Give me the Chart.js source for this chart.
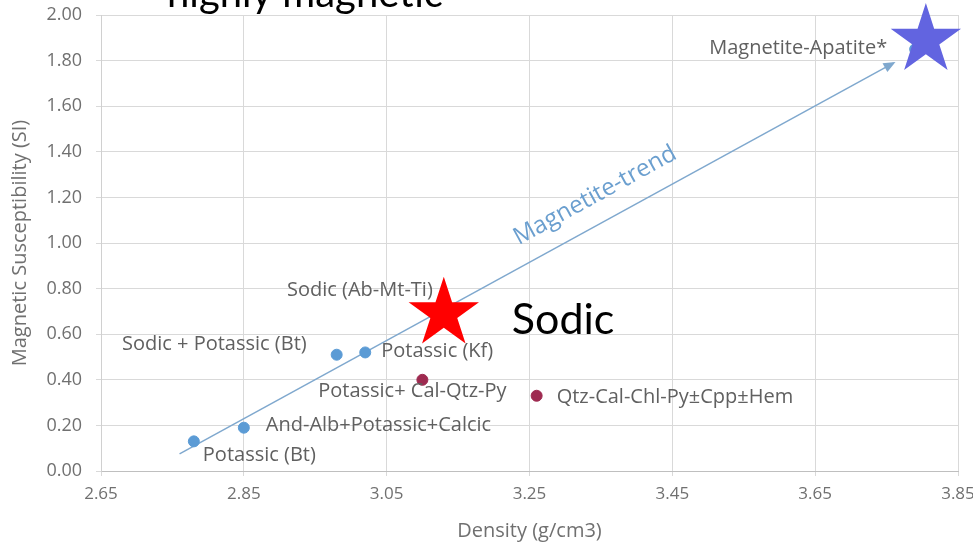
<!DOCTYPE html>
<html>
<head>
<meta charset="utf-8">
<script src="https://cdn.jsdelivr.net/npm/chart.js@4/dist/chart.umd.min.js"></script>
<style>
  html, body { margin: 0; padding: 0; background: #ffffff; }
  #wrap { width: 973px; height: 543px; }
</style>
</head>
<body>
<div id="wrap"><canvas id="c" width="973" height="543"></canvas></div>
<script>
// Alteration facies lying on the magnetite trend
const trendNames = ['Potassic (Bt)', 'And-Alb+Potassic+Calcic', 'Sodic + Potassic (Bt)', 'Potassic (Kf)', 'Sodic (Ab-Mt-Ti)', 'Magnetite-Apatite*'];
const trendDensity = [2.78, 2.85, 2.98, 3.02, 3.13, 3.79];
const trendSusc = [0.13, 0.19, 0.51, 0.52, 0.69, 1.85];

// Sulfide-bearing facies off the trend
const sulfideNames = ['Potassic+ Cal-Qtz-Py', 'Qtz-Cal-Chl-Py\u00B1Cpp\u00B1Hem'];
const sulfideDensity = [3.10, 3.26];
const sulfideSusc = [0.40, 0.33];

// Magnetite-trend arrow (start, end)
const arrowDensity = [2.76, 3.76];
const arrowSusc = [0.075, 1.79];

// Axis ticks
const xTicks = [2.65, 2.85, 3.05, 3.25, 3.45, 3.65, 3.85];
const yTicks = [0, 0.2, 0.4, 0.6, 0.8, 1.0, 1.2, 1.4, 1.6, 1.8, 2.0];

// Label placement for each point: [align, dx, dy] in pixels
const trendLabelPlace = [['left', 9, 14], ['left', 22, -2], ['right', -30, -10], ['left', 16, -1], ['right', -11, -23], ['right', -28, -1]];
const sulfideLabelPlace = [['center', -10, 11], ['left', 20, 2]];

const BLUE = '#5B9BD5';
const WINE = '#9E2A50';
const TREND = '#7FA8CE';
const TEXT = '#606060';
const TICK = '#707070';

function pts(xs, ys) { return xs.map((v, i) => ({ x: v, y: ys[i] })); }

function starPath(ctx, cx, cy, R) {
  const r = R * 0.382;
  ctx.beginPath();
  for (let k = 0; k < 10; k++) {
    const rad = k % 2 === 0 ? R : r;
    const a = -Math.PI / 2 + k * Math.PI / 5;
    const px = cx + rad * Math.cos(a), py = cy + rad * Math.sin(a);
    if (k === 0) ctx.moveTo(px, py); else ctx.lineTo(px, py);
  }
  ctx.closePath();
}

// keep the plot frame fixed: no extra room reserved for overhanging tick labels
function noOverhang(s) {
  s.paddingTop = 0; s.paddingBottom = 0; s.paddingLeft = 0; s.paddingRight = 0;
}

const notesPlugin = {
  id: 'notes',
  afterDatasetsDraw(chart) {
    const { ctx, scales: { x, y } } = chart;
    // arrowhead and caption of the trend line
    const x0 = x.getPixelForValue(arrowDensity[0]), y0 = y.getPixelForValue(arrowSusc[0]);
    const x1 = x.getPixelForValue(arrowDensity[1]), y1 = y.getPixelForValue(arrowSusc[1]);
    const ang = Math.atan2(y1 - y0, x1 - x0);
    ctx.save();
    ctx.translate(x1, y1);
    ctx.rotate(ang);
    ctx.beginPath();
    ctx.moveTo(2, 0);
    ctx.lineTo(-10, -5);
    ctx.lineTo(-10, 5);
    ctx.closePath();
    ctx.fillStyle = TREND;
    ctx.fill();
    ctx.restore();

    const t = 0.6;
    const mx = x0 + (x1 - x0) * t, my = y0 + (y1 - y0) * t;
    ctx.save();
    ctx.translate(mx + 27 * Math.sin(ang), my - 27 * Math.cos(ang));
    ctx.rotate(ang);
    ctx.font = '24px "Open Sans", sans-serif';
    ctx.fillStyle = '#6B9FCF';
    ctx.textAlign = 'center';
    ctx.textBaseline = 'middle';
    ctx.fillText('Magnetite-trend', 0, 0);
    ctx.restore();

    // point labels
    ctx.save();
    ctx.font = '20px "Open Sans", sans-serif';
    ctx.fillStyle = TEXT;
    ctx.textBaseline = 'middle';
    chart.data.datasets.forEach((ds, di) => {
      if (!ds.names) return;
      const meta = chart.getDatasetMeta(di);
      meta.data.forEach((el, i) => {
        const [align, dx, dy] = ds.place[i];
        ctx.textAlign = align;
        ctx.fillText(ds.names[i], el.x + dx, el.y + dy);
      });
    });
    ctx.restore();
  },
  afterDraw(chart) {
    const { ctx, scales: { x, y } } = chart;
    // highlight stars
    const red = { x: x.getPixelForValue(3.13), y: y.getPixelForValue(0.69) };
    const blue = { x: x.getPixelForValue(3.805), y: y.getPixelForValue(1.89) };
    ctx.save();
    starPath(ctx, red.x, red.y, 37);
    ctx.fillStyle = '#FF0000';
    ctx.fill();
    starPath(ctx, blue.x, blue.y, 37);
    ctx.fillStyle = '#6264E0';
    ctx.fill();

    ctx.fillStyle = '#000000';
    ctx.textAlign = 'left';
    ctx.textBaseline = 'alphabetic';
    ctx.font = '43px Lato, sans-serif';
    ctx.fillText('Sodic', red.x + 68, red.y + 20);
    ctx.font = '40px Lato, sans-serif';
    ctx.fillText('highly magnetic', 167, 7);
    ctx.restore();
  }
};

Chart.defaults.font.family = '"Open Sans", sans-serif';

new Chart(document.getElementById('c'), {
  type: 'scatter',
  data: {
    datasets: [
      {
        type: 'line',
        data: pts(arrowDensity, arrowSusc),
        borderColor: TREND,
        borderWidth: 1.5,
        pointRadius: 0,
        fill: false,
        order: 3
      },
      {
        data: pts(trendDensity, trendSusc),
        names: trendNames,
        place: trendLabelPlace,
        backgroundColor: BLUE,
        borderColor: BLUE,
        pointRadius: 5.5,
        order: 1
      },
      {
        data: pts(sulfideDensity, sulfideSusc),
        names: sulfideNames,
        place: sulfideLabelPlace,
        backgroundColor: WINE,
        borderColor: WINE,
        pointRadius: 5.5,
        order: 1
      }
    ]
  },
  options: {
    responsive: false,
    animation: false,
    devicePixelRatio: 1,
    layout: { padding: { top: 15, right: 15, left: 0, bottom: 0 } },
    plugins: { legend: { display: false }, tooltip: { enabled: false } },
    scales: {
      x: {
        type: 'linear',
        min: 2.65,
        max: 3.85,
        afterBuildTicks: s => { s.ticks = xTicks.map(v => ({ value: v })); },
        afterFit: s => { s.height = 72; noOverhang(s); },
        ticks: { callback: v => Number(v).toFixed(2), color: TICK, font: { size: 17 }, padding: 8, maxRotation: 0 },
        grid: { color: '#d9d9d9', tickLength: 5 },
        border: { color: '#bfbfbf' },
        title: { display: true, text: 'Density (g/cm3)', color: TICK, font: { size: 20 }, padding: { top: 0, bottom: 0 } }
      },
      y: {
        min: 0,
        max: 2,
        afterBuildTicks: s => { s.ticks = yTicks.map(v => ({ value: v })); },
        afterFit: s => { s.width = 101; noOverhang(s); },
        ticks: { callback: v => Number(v).toFixed(2), color: TICK, font: { size: 18 }, padding: 14 },
        grid: { color: '#d9d9d9', tickLength: 5 },
        border: { color: '#d0d0d0' },
        title: { display: true, text: 'Magnetic Susceptibility (SI)', color: TICK, font: { size: 20 }, padding: { top: 8, bottom: 0 } }
      }
    }
  },
  plugins: [notesPlugin]
});
</script>
</body>
</html>
